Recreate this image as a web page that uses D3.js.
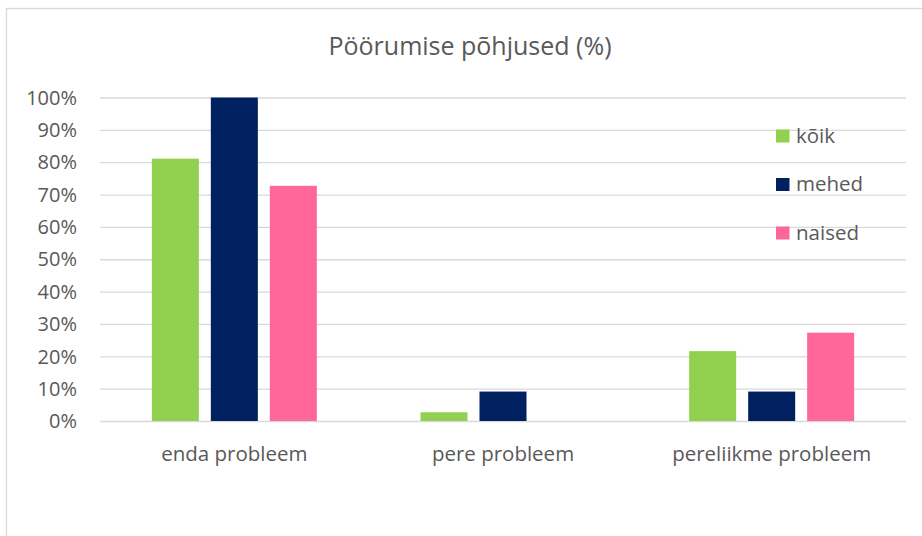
<!DOCTYPE html>
<html>
<head>
<meta charset="utf-8">
<script src="https://cdn.jsdelivr.net/npm/d3@7"></script>
<style>
  body { margin: 0; background: #fff; }
  svg { font-family: "Open Sans", sans-serif; }
  .grid line { stroke: #d9d9d9; stroke-width: 1.3; }
  .grid path { display: none; }
</style>
</head>
<body>
<svg id="chart" width="922" height="536"></svg>
<script>
// chart data
const categories = ["enda probleem", "pere probleem", "pereliikme probleem"];
const seriesNames = ["kõik", "mehed", "naised"];
const koik = [81.1, 2.7, 21.6];
const mehed = [100, 9.1, 9.1];
const naised = [72.7, 0, 27.3];
const yTicks = [0, 10, 20, 30, 40, 50, 60, 70, 80, 90, 100];
const colors = ["#92d050", "#002060", "#ff6699"];

const values = [koik, mehed, naised];
const rows = categories.map((c, i) => ({
    cat: c,
    vals: seriesNames.map((s, j) => ({ key: s, value: values[j][i] }))
}));

const svg = d3.select("#chart");
const textColor = "#595959";

// outer chart border (extends beyond the window on right and bottom)
svg.append("rect")
    .attr("x", 6.5).attr("y", 8.5)
    .attr("width", 940).attr("height", 560)
    .attr("fill", "none").attr("stroke", "#d9d9d9").attr("stroke-width", 1.3);

const plot = { left: 100, right: 906, top: 97.5, bottom: 421 };

const x0 = d3.scaleBand().domain(categories).range([plot.left, plot.right]);
// inner grouping: bars 47px wide with 12px gaps
const groupW = 165;
const x1 = d3.scaleBand().domain(seriesNames)
    .range([(x0.step() - groupW) / 2, (x0.step() + groupW) / 2])
    .paddingInner(0.203);
const y = d3.scaleLinear().domain([0, 100]).range([plot.bottom, plot.top]);
const color = d3.scaleOrdinal().domain(seriesNames).range(colors);

// gridlines
svg.append("g").attr("class", "grid")
    .attr("transform", `translate(${plot.left},0)`)
    .call(d3.axisLeft(y).tickValues(yTicks).tickSize(-(plot.right - plot.left)).tickFormat(""));

// y tick labels
svg.append("g").selectAll("text")
    .data(yTicks)
    .join("text")
    .attr("x", 77)
    .attr("y", d => y(d))
    .attr("dy", "0.36em")
    .attr("text-anchor", "end")
    .attr("fill", textColor)
    .style("font-size", "20px")
    .text(d => d + "%");

// bars
svg.append("g").selectAll("g")
    .data(rows)
    .join("g")
    .attr("transform", d => `translate(${x0(d.cat)},0)`)
    .selectAll("rect")
    .data(d => d.vals)
    .join("rect")
    .attr("x", d => x1(d.key))
    .attr("y", d => y(d.value))
    .attr("width", x1.bandwidth())
    .attr("height", d => y(0) - y(d.value))
    .attr("fill", d => color(d.key));

// category labels
svg.append("g").selectAll("text")
    .data(categories)
    .join("text")
    .attr("x", d => x0(d) + x0.bandwidth() / 2)
    .attr("y", 461)
    .attr("text-anchor", "middle")
    .attr("fill", textColor)
    .style("font-size", "20.5px")
    .text(d => d);

// title
svg.append("text")
    .attr("x", 470).attr("y", 55)
    .attr("text-anchor", "middle")
    .attr("fill", textColor)
    .style("font-size", "25px")
    .text("Pöörumise põhjused (%)");

// legend
const legend = svg.append("g").attr("transform", "translate(776,136)");
seriesNames.forEach((key, i) => {
    const row = legend.append("g").attr("transform", `translate(0,${i * 48.5})`);
    row.append("rect").attr("x", 0).attr("y", -6.5)
        .attr("width", 13.5).attr("height", 13).attr("fill", color(key));
    row.append("text").attr("x", 20).attr("y", 0).attr("dy", "0.34em")
        .attr("fill", textColor).style("font-size", "20.5px").text(key);
});
</script>
</body>
</html>
